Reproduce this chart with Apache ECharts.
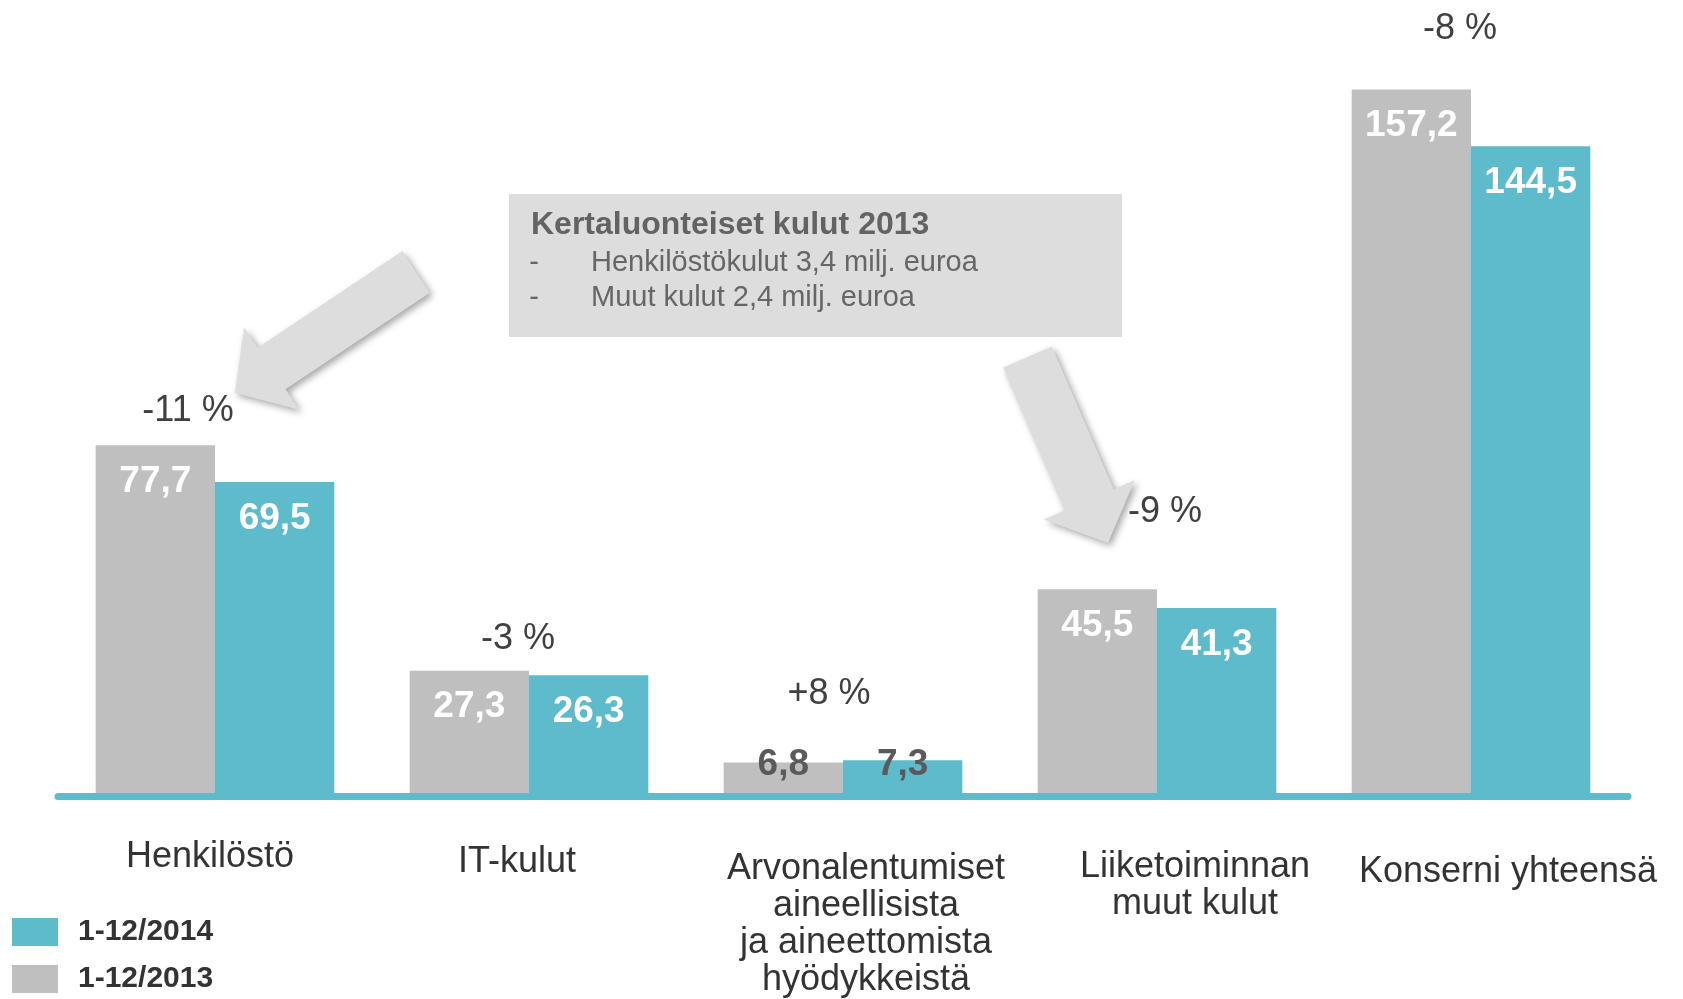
<!DOCTYPE html>
<html><head><meta charset="utf-8">
<script src="https://cdn.jsdelivr.net/npm/echarts@6/dist/echarts.min.js"></script>
<style>html,body{margin:0;padding:0;background:#fff}#c{width:1683px;height:999px}</style>
</head><body><div id="c"></div>
<script>
// ---- data ----
const categories = ['Henkilöstö', 'IT-kulut', 'Arvonalentumiset\naineellisista\nja aineettomista\nhyödykkeistä', 'Liiketoiminnan\nmuut kulut', 'Konserni yhteensä'];
const seriesNames = ['1-12/2013', '1-12/2014'];
const values2013 = [77.7, 27.3, 6.8, 45.5, 157.2];
const values2014 = [69.5, 26.3, 7.3, 41.3, 144.5];
const changeLabels = ['-11 %', '-3 %', '+8 %', '-9 %', '-8 %'];
const noteTitle = 'Kertaluonteiset kulut 2013';
const noteLines = ['Henkilöstökulut 3,4 milj. euroa', 'Muut kulut 2,4 milj. euroa'];

// ---- layout (annotation placement, label nudges) ----
const labelNudge = [[0, -5], [5, -12], [12, 23], [10, 38], [15, 37]]; // [dy, dx] px
const changePos = [[188, 411], [518, 639], [829, 694], [1165, 512], [1460, 29]];
const GRAY = '#BFBFBF', TEAL = '#5EBBCB';
const FONT = '"Liberation Sans", Arial, sans-serif';

const fmt = v => v.toFixed(1).replace('.', ',');
function barItem(v) {
  if (v < 10) {
    return { value: v, label: { position: 'insideBottom', distance: 10, color: '#5A5A5A' } };
  }
  return v;
}
function arrow(T, P, shaftW, headW, headL) {
  const dx = P[0] - T[0], dy = P[1] - T[1];
  const len = Math.hypot(dx, dy);
  const u = [dx / len, dy / len], n = [-u[1], u[0]];
  const B = [P[0] - u[0] * headL, P[1] - u[1] * headL];
  const w = shaftW / 2, h = headW / 2;
  const pt = (b, s) => [b[0] + n[0] * s, b[1] + n[1] * s];
  return {
    type: 'polygon', z: 100,
    shape: { points: [pt(T, w), pt(B, w), pt(B, h), P, pt(B, -h), pt(B, -w), pt(T, -w)] },
    style: { fill: '#DDDDDD', shadowBlur: 7, shadowColor: 'rgba(0,0,0,0.35)', shadowOffsetX: 3, shadowOffsetY: 3 }
  };
}

const chart = echarts.init(document.getElementById('c'), null, { renderer: 'canvas' });

const graphics = [];
changeLabels.forEach((t, i) => {
  graphics.push({
    type: 'text', z: 50, x: changePos[i][0], y: changePos[i][1],
    style: { text: t, font: '36px ' + FONT, fill: '#404040',
      align: 'center', verticalAlign: 'middle', textAlign: 'center', textVerticalAlign: 'middle' }
  });
});
graphics.push({ type: 'rect', z: 40, shape: { x: 509, y: 194, width: 613, height: 143 }, style: { fill: '#DDDDDD' } });
graphics.push({ type: 'text', z: 41, x: 531, y: 225,
  style: { text: noteTitle, font: 'bold 32px ' + FONT, fill: '#636363',
    align: 'left', verticalAlign: 'middle', textAlign: 'left', textVerticalAlign: 'middle' } });
noteLines.forEach((t, i) => {
  const y = 263 + i * 35;
  graphics.push({ type: 'text', z: 41, x: 534, y: y,
    style: { text: '-', font: '29px ' + FONT, fill: '#666666',
      align: 'center', verticalAlign: 'middle', textAlign: 'center', textVerticalAlign: 'middle' } });
  graphics.push({ type: 'text', z: 41, x: 591, y: y,
    style: { text: t, font: '29px ' + FONT, fill: '#666666',
      align: 'left', verticalAlign: 'middle', textAlign: 'left', textVerticalAlign: 'middle' } });
});
graphics.push(arrow([416, 272], [235, 393], 50, 99, 44));
graphics.push(arrow([1027.5, 357], [1108, 543], 53, 99, 47));

const option = {
  animation: false,
  backgroundColor: '#ffffff',
  grid: { left: 58, right: 55, top: 32.2, bottom: 202.5, containLabel: false, outerBoundsMode: 'none' },
  legend: {
    data: [seriesNames[1], seriesNames[0]],
    orient: 'vertical', left: 12, top: 917, padding: 0, height: 80,
    itemWidth: 46, itemHeight: 28, itemGap: 17, icon: 'rect', selectedMode: false,
    textStyle: { fontFamily: FONT, fontWeight: 'bold', fontSize: 30, lineHeight: 28, color: '#333333', padding: [0, 0, 0, 15] }
  },
  xAxis: {
    type: 'category',
    data: categories.map((c, i) => {
      const [dy, dx] = labelNudge[i];
      return { value: c, textStyle: { padding: [dy, dx < 0 ? -2 * dx : 0, 0, dx > 0 ? 2 * dx : 0] } };
    }),
    axisTick: { show: false },
    axisLine: { show: true, onZero: false, lineStyle: { color: TEAL, width: 7 } },
    axisLabel: { interval: 0, margin: 42, fontFamily: FONT, fontSize: 36, lineHeight: 37, color: '#333333', align: 'center' }
  },
  yAxis: { type: 'value', min: -0.8, max: 170, show: false, splitLine: { show: false } },
  series: [
    {
      name: seriesNames[0], type: 'bar', data: values2013.map(barItem),
      itemStyle: { color: GRAY }, barGap: '0%', barCategoryGap: '24%',
      label: { show: true, position: 'insideTop', distance: 18, color: '#FFFFFF', fontWeight: 'bold', fontSize: 37,
        fontFamily: FONT, formatter: p => fmt(p.value) }
    },
    {
      name: seriesNames[1], type: 'bar', data: values2014.map(barItem),
      itemStyle: { color: TEAL }, barGap: '0%', barCategoryGap: '24%',
      label: { show: true, position: 'insideTop', distance: 18, color: '#FFFFFF', fontWeight: 'bold', fontSize: 37,
        fontFamily: FONT, formatter: p => fmt(p.value) }
    }
  ],
  graphic: graphics
};
chart.setOption(option);
</script>
</body></html>
